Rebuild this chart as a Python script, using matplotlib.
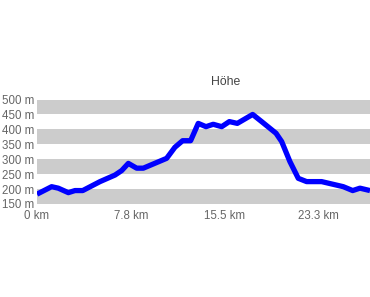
import matplotlib
matplotlib.use("Agg")
import matplotlib.pyplot as plt

plt.rcParams['font.family'] = ['Liberation Sans', 'DejaVu Sans']

# distance (km) and elevation (m)
km = [0.0, 1.21, 1.76, 2.59, 3.14, 3.78, 5.21, 6.45, 7.0, 7.55, 8.24, 8.79,
      9.61, 10.72, 11.4, 12.04, 12.7, 13.33, 13.97, 14.57, 15.27, 15.9,
      16.56, 17.83, 18.57, 19.76, 20.23, 20.91, 21.6, 22.29, 23.53, 25.32,
      26.1, 26.7, 27.53]
elev = [183, 208, 203, 188, 195, 195, 225, 247, 262, 286, 270, 270,
        284, 303, 340, 362, 362, 420, 409, 417, 409, 426,
        420, 450, 426, 387, 359, 292, 236, 225, 225, 208,
        195, 203, 195]

x_ticks = [0, 7.77, 15.53, 23.3]
x_labels = ['0 km', '7.8 km', '15.5 km', '23.3 km']
y_ticks = [150, 200, 250, 300, 350, 400, 450, 500]
y_labels = [f'{v} m' for v in y_ticks]

W, H = 370, 297
fig = plt.figure(figsize=(W / 100, H / 100), dpi=100)
ax = fig.add_axes([37 / W, 1 - 204 / H, 1 - 37 / W, (204 - 99.5) / H])

# alternating grey bands
for lo in (150, 250, 350, 450):
    ax.axhspan(lo, lo + 50, color='#cccccc', lw=0, zorder=0)

ax.plot(km, elev, color='#0000ff', lw=3.8, solid_joinstyle='round',
        solid_capstyle='butt', zorder=3)

ax.set_xlim(0, 27.53)
ax.set_ylim(150, 500)
ax.set_xticks(x_ticks)
ax.set_xticklabels(x_labels)
ax.set_yticks(y_ticks)
ax.set_yticklabels(y_labels)
ax.tick_params(length=0, labelsize=8.3, colors='#666666')
ax.tick_params(axis='y', pad=2)
ax.tick_params(axis='x', pad=4)
for s in ax.spines.values():
    s.set_visible(False)

fig.text(226 / W, 1 - 82 / H, 'Höhe', ha='center', va='center',
         fontsize=8.8, color='#444444')

fig.savefig('out.png', dpi=100)
